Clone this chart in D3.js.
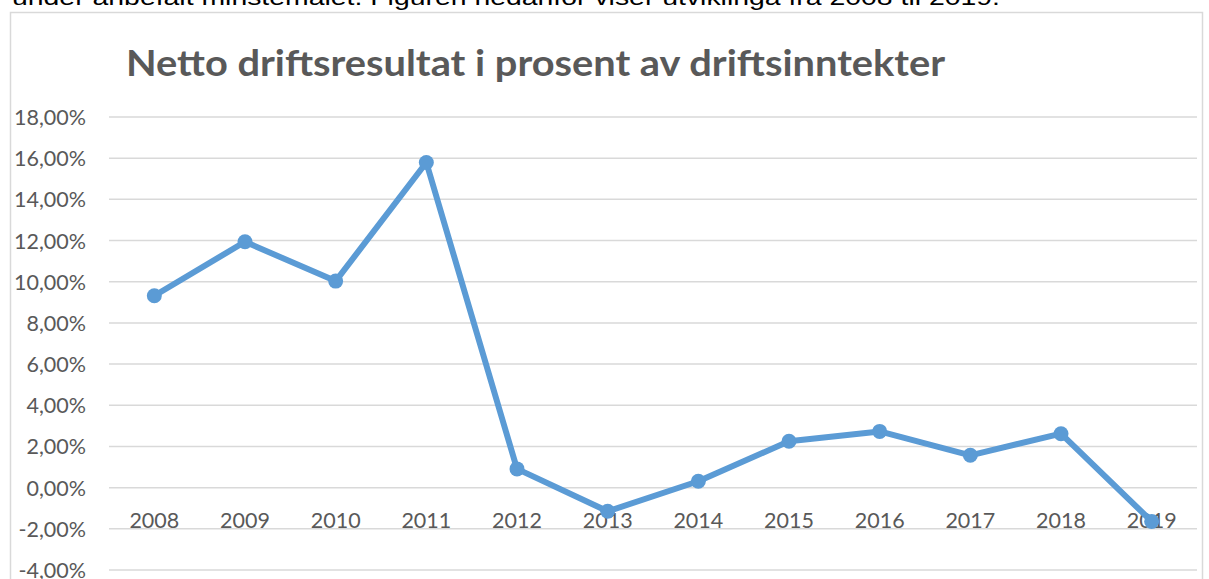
<!DOCTYPE html>
<html>
<head>
<meta charset="utf-8">
<script src="https://cdn.jsdelivr.net/npm/d3@7"></script>
<style>
  html, body { margin: 0; padding: 0; background: #fff; }
  svg { display: block; }
</style>
</head>
<body>
<svg id="chart" width="1209" height="579"></svg>
<script>
const years = ['2008', '2009', '2010', '2011', '2012', '2013', '2014', '2015', '2016', '2017', '2018', '2019'];
const values = [9.32, 11.94, 10.03, 15.79, 0.91, -1.15, 0.31, 2.25, 2.73, 1.57, 2.62, -1.64];
const yTicks = [-4, -2, 0, 2, 4, 6, 8, 10, 12, 14, 16, 18];

const title = 'Netto driftsresultat i prosent av driftsinntekter';
const introText = 'under anbefalt minstemålet. Figuren nedanfor viser utviklinga fra 2008 til 2019.';

const svg = d3.select('#chart');
const labelFont = 'Lato, "Open Sans", sans-serif';

// text above the chart (cut off at the top, as in the source page)
svg.append('text')
  .attr('x', 12)
  .attr('y', 5)
  .attr('font-family', '"Liberation Sans", Arial, sans-serif')
  .attr('font-size', 22)
  .attr('fill', '#000')
  .attr('textLength', 988)
  .attr('lengthAdjust', 'spacingAndGlyphs')
  .text(introText);

// chart frame
svg.append('rect')
  .attr('x', 10.5)
  .attr('y', 12.5)
  .attr('width', 1192)
  .attr('height', 600)
  .attr('fill', 'none')
  .attr('stroke', '#d9d9d9')
  .attr('stroke-width', 1.5);

let x = d3.scaleBand().domain(years).range([109, 1197]);
let y = d3.scaleLinear().domain([-4, 18]).range([570, 117]);
const cx = (d) => x(d) + x.bandwidth() / 2;

// gridlines
svg.append('g')
  .selectAll('line')
  .data(yTicks)
  .join('line')
  .attr('x1', 109)
  .attr('x2', 1197)
  .attr('y1', (d) => y(d))
  .attr('y2', (d) => y(d))
  .attr('stroke', '#d9d9d9')
  .attr('stroke-width', 1.5);

// y labels
svg.append('g')
  .selectAll('text')
  .data(yTicks)
  .join('text')
  .attr('x', 86)
  .attr('y', (d) => y(d) + 8)
  .attr('text-anchor', 'end')
  .attr('font-family', labelFont)
  .attr('font-size', 21.5)
  .attr('fill', '#595959')
  .text((d) => d.toFixed(2).replace('.', ',') + '%');

// x labels sit just under the zero line
svg.append('g')
  .selectAll('text')
  .data(years)
  .join('text')
  .attr('x', (d) => cx(d))
  .attr('y', y(0) + 40)
  .attr('text-anchor', 'middle')
  .attr('font-family', labelFont)
  .attr('font-size', 21.5)
  .attr('fill', '#595959')
  .text((d) => d);

// title
svg.append('text')
  .attr('x', 126)
  .attr('y', 76)
  .attr('font-family', labelFont)
  .attr('font-weight', 700)
  .attr('font-size', 36)
  .attr('fill', '#595959')
  .attr('textLength', 819)
  .attr('lengthAdjust', 'spacingAndGlyphs')
  .text(title);

// line + markers
const points = years.map((yr, i) => ({ year: yr, value: values[i] }));
const line = d3.line().x((d) => cx(d.year)).y((d) => y(d.value));

svg.append('path')
  .datum(points)
  .attr('d', line)
  .attr('fill', 'none')
  .attr('stroke', '#5b9bd5')
  .attr('stroke-width', 6)
  .attr('stroke-linejoin', 'round');

svg.append('g')
  .selectAll('circle')
  .data(points)
  .join('circle')
  .attr('cx', (d) => cx(d.year))
  .attr('cy', (d) => y(d.value))
  .attr('r', 7.5)
  .attr('fill', '#5b9bd5');
</script>
</body>
</html>
